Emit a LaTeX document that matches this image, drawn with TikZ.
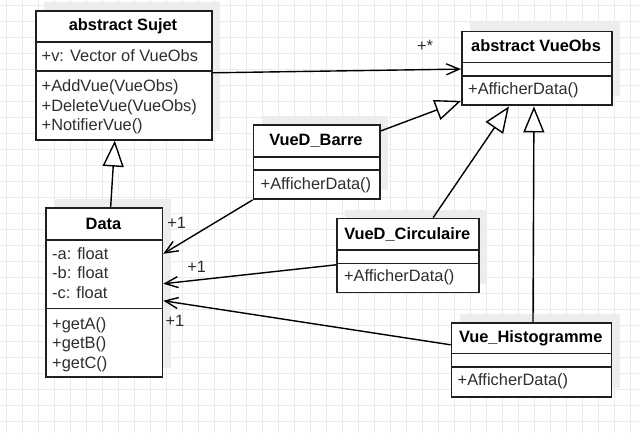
\documentclass[tikz,border=0pt]{standalone}
\usepackage{fontspec}
\setmainfont{Liberation Sans}
\usetikzlibrary{arrows.meta,calc,shadows}

\tikzset{every picture/.style={line width=1.4pt}}
\tikzset{
  classbox/.style={draw=black!88, line width=1.6pt, fill=white, inner sep=0pt, anchor=north west,
    drop shadow={shadow xshift=8pt, shadow yshift=9pt, fill=black!7, opacity=1}},
  classline/.style={draw=black!88, line width=1.6pt},
  classtitle/.style={font=\fontsize{16.4}{19.5}\selectfont\bfseries, anchor=base, inner sep=0pt},
  member/.style={font=\fontsize{16.4}{19.5}\selectfont, text=black!82, anchor=base west, inner sep=0pt, align=left},
  mult/.style={font=\fontsize{16.4}{19.5}\selectfont, text=black!82, inner sep=0pt},
  assoc/.style={-{Straight Barb[length=13pt,width=11pt]}},
  inherit/.style={-{Triangle[open,length=26pt,width=21pt,fill=white]}},
  gridline/.style={draw=black!8, line width=1pt}
}

\begin{document}
\begin{tikzpicture}[x=1pt,y=1pt,yscale=-1,xscale=1]
		\useasboundingbox (0,0) rectangle (639,433);
		\fill[white] (0,0) rectangle (639,433);
		
		%Background grid
		\foreach \gx in {6.3,22.3,...,639} \draw[gridline] (\gx,0) -- (\gx,433);
		\foreach \gy in {5.3,21.3,...,433} \draw[gridline] (0,\gy) -- (639,\gy);
		
		%Class: abstract Sujet
		\node[classbox, minimum width=176, minimum height=129] (sujet) at (35,10) {};
		\draw[classline] ($(sujet.north west)+(0,32.3)$) -- ($(sujet.north east)+(0,32.3)$);
		\draw[classline] ($(sujet.north west)+(0,61.3)$) -- ($(sujet.north east)+(0,61.3)$);
		% Text Node
		\node[classtitle] (sujettitle) at (123,31) {abstract Sujet};
		% Text Node
		\node[member] (sujetattr) at (41,61.5) {+v: Vector of VueObs};
		% Text Node (base = last line)
		\node[member] (sujetops) at (41,130.7) {+AddVue(VueObs)\\+DeleteVue(VueObs)\\+NotifierVue()};
		
		%Class: abstract VueObs
		\node[classbox, minimum width=150.3, minimum height=73.6] (vueobs) at (461,30.7) {};
		\draw[classline] ($(vueobs.north west)+(0,32)$) -- ($(vueobs.north east)+(0,32)$);
		\draw[classline] ($(vueobs.north west)+(0,45.3)$) -- ($(vueobs.north east)+(0,45.3)$);
		% Text Node
		\node[classtitle] (vueobstitle) at (536,51.7) {abstract VueObs};
		% Text Node
		\node[member] (vueobsops) at (467.5,95) {+AfficherData()};
		
		%Class: Data
		\node[classbox, minimum width=116.7, minimum height=168.7] (data) at (45,207.3) {};
		\draw[classline] ($(data.north west)+(0,32.7)$) -- ($(data.north east)+(0,32.7)$);
		\draw[classline] ($(data.north west)+(0,101)$) -- ($(data.north east)+(0,101)$);
		% Text Node
		\node[classtitle] (datatitle) at (103.5,229) {Data};
		% Text Node
		\node[member] (dataattr) at (51.5,298.3) {-a: float\\-b: float\\-c: float};
		% Text Node
		\node[member] (dataops) at (51.5,368.3) {+getA()\\+getB()\\+getC()};
		
		%Class: VueD_Barre
		\node[classbox, minimum width=126.3, minimum height=74.3] (barre) at (252.7,124) {};
		\draw[classline] ($(barre.north west)+(0,32.7)$) -- ($(barre.north east)+(0,32.7)$);
		\draw[classline] ($(barre.north west)+(0,46)$) -- ($(barre.north east)+(0,46)$);
		% Text Node
		\node[classtitle] (barretitle) at (315.9,145.7) {VueD\_Barre};
		% Text Node
		\node[member] (barreops) at (260,189.3) {+AfficherData()};
		
		%Class: VueD_Circulaire
		\node[classbox, minimum width=142, minimum height=74] (circ) at (336.3,217.7) {};
		\draw[classline] ($(circ.north west)+(0,32.3)$) -- ($(circ.north east)+(0,32.3)$);
		\draw[classline] ($(circ.north west)+(0,45.6)$) -- ($(circ.north east)+(0,45.6)$);
		% Text Node
		\node[classtitle] (circtitle) at (407.3,239) {VueD\_Circulaire};
		% Text Node
		\node[member] (circops) at (343.3,281) {+AfficherData()};
		
		%Class: Vue_Histogramme
		\node[classbox, minimum width=160, minimum height=74] (histo) at (450.7,322) {};
		\draw[classline] ($(histo.north west)+(0,31.3)$) -- ($(histo.north east)+(0,31.3)$);
		\draw[classline] ($(histo.north west)+(0,44.7)$) -- ($(histo.north east)+(0,44.7)$);
		% Text Node
		\node[classtitle] (histotitle) at (530.7,342.7) {Vue\_Histogramme};
		% Text Node
		\node[member] (histoops) at (457,385.7) {+AfficherData()};
		
		%Association: Sujet -> VueObs
		\draw[assoc] ($(sujet.east)+(0,-2.5)$) -- ($(vueobs.west)+(0,0.8)$);
		\node[mult] (multobs) at (425,46) {+*};
		
		%Generalisation
		\draw[inherit] ($(data.north)+(6.5,0)$) -- ($(sujet.south)+(-9,0)$);
		\draw[inherit] ($(barre.north east)+(0,7)$) -- ($(vueobs.south west)+(0,-5)$);
		\draw[inherit] ($(circ.north)+(25,0)$) -- ($(vueobs.south)+(-28,0.5)$);
		\draw[inherit] ($(histo.north)+(1.5,0)$) -- ($(vueobs.south)+(-3,0.5)$);
		
		%Associations: views -> Data
		\draw[assoc] (barre.south west) -- ($(data.east)+(0,-38.7)$);
		\node[mult] (multbarre) at (176.7,223) {+1};
		\draw[assoc] ($(circ.west)+(0,9.3)$) -- ($(data.east)+(0,-8.7)$);
		\node[mult] (multcirc) at (196.7,266.7) {+1};
		\draw[assoc] ($(histo.west)+(0,-15)$) -- ($(data.east)+(0,8.3)$);
		\node[mult] (multhisto) at (175,320.7) {+1};
		
\end{tikzpicture}
\end{document}
